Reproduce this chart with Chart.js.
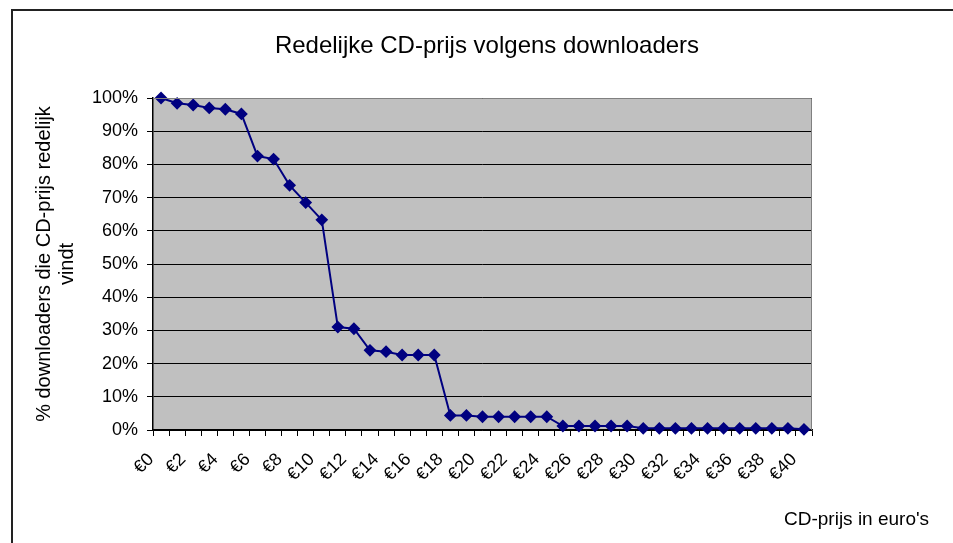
<!DOCTYPE html>
<html>
<head>
<meta charset="utf-8">
<script src="https://cdn.jsdelivr.net/npm/chart.js@4/dist/chart.umd.min.js"></script>
<style>
  body { margin: 0; background: #fff; }
  canvas { display: block; }
</style>
</head>
<body>
<canvas id="priceChart" width="953" height="543"></canvas>
<script>
// CD price in euros (0..40)
const prices = [];
for (let p = 0; p <= 40; p++) prices.push('€' + p);

// % of downloaders that find the price reasonable
const reasonable = [
  100, 98.4, 97.9, 97.0, 96.6, 95.2, 82.5, 81.6, 73.7, 68.5,
  63.3, 31.0, 30.5, 24.0, 23.6, 22.6, 22.6, 22.6, 4.4, 4.4,
  4.0, 4.0, 4.0, 4.0, 4.0, 1.2, 1.2, 1.2, 1.2, 1.2,
  0.5, 0.5, 0.5, 0.5, 0.5, 0.5, 0.5, 0.5, 0.5, 0.5, 0.2
];

const yTicks = [0, 10, 20, 30, 40, 50, 60, 70, 80, 90, 100];

const FONT = '"Liberation Sans", Arial, sans-serif';

// grey plot area, chart frame, title and the x axis caption
const decorations = {
  id: 'decorations',
  beforeDraw(chart) {
    const { ctx, chartArea: a } = chart;
    ctx.save();
    ctx.fillStyle = '#c0c0c0';
    ctx.fillRect(a.left, a.top, a.right - a.left, a.bottom - a.top);
    // outer chart border (only top and left are visible)
    ctx.strokeStyle = '#222';
    ctx.lineWidth = 2;
    ctx.beginPath();
    ctx.moveTo(12, 543);
    ctx.lineTo(12, 10);
    ctx.lineTo(953, 10);
    ctx.stroke();
    ctx.fillStyle = '#000';
    ctx.font = '24px ' + FONT;
    ctx.textAlign = 'center';
    ctx.textBaseline = 'alphabetic';
    ctx.fillText('Redelijke CD-prijs volgens downloaders', 487, 53);
    ctx.restore();
  },
  afterDatasetsDraw(chart) {
    const { ctx, chartArea: a } = chart;
    ctx.save();
    ctx.strokeStyle = '#808080';
    ctx.lineWidth = 1;
    ctx.beginPath();
    ctx.moveTo(a.left, a.top + 0.5);
    ctx.lineTo(a.right - 0.5, a.top + 0.5);
    ctx.lineTo(a.right - 0.5, a.bottom);
    ctx.stroke();
    ctx.fillStyle = '#000';
    ctx.font = '19px ' + FONT;
    ctx.textAlign = 'left';
    ctx.textBaseline = 'alphabetic';
    ctx.fillText("CD-prijs in euro's", 784, 525);
    ctx.restore();
  }
};

new Chart(document.getElementById('priceChart'), {
  type: 'line',
  data: {
    labels: prices,
    datasets: [{
      data: reasonable,
      borderColor: '#000080',
      backgroundColor: '#000080',
      borderWidth: 2,
      pointStyle: 'rectRot',
      pointRadius: 5,
      pointHoverRadius: 5,
      tension: 0,
      clip: false
    }]
  },
  options: {
    responsive: false,
    animation: false,
    layout: { padding: { top: 98, right: 141, bottom: 63, left: 30 } },
    plugins: {
      legend: { display: false },
      tooltip: { enabled: false },
      title: { display: false }
    },
    scales: {
      x: {
        type: 'category',
        offset: true,
        afterFit(scale) { scale.height = 50; },
        grid: {
          offset: true,
          drawOnChartArea: false,
          drawTicks: true,
          tickLength: 6,
          color: '#000'
        },
        border: { color: '#000', width: 1.5 },
        ticks: {
          autoSkip: false,
          maxRotation: 45,
          minRotation: 45,
          padding: 13,
          labelOffset: -10,
          color: '#000',
          font: { family: FONT, size: 18 },
          callback(value, index) { return index % 2 === 0 ? prices[index] : ''; }
        }
      },
      y: {
        min: 0,
        max: 100,
        afterFit(scale) { scale.width = 123; },
        afterBuildTicks(scale) { scale.ticks = yTicks.map(v => ({ value: v })); },
        grid: {
          color: '#000',
          lineWidth: 1,
          tickLength: 6
        },
        border: { color: '#000', width: 1.5 },
        ticks: {
          padding: 9,
          color: '#000',
          font: { family: FONT, size: 18 },
          callback(value) { return value + '%'; }
        },
        title: {
          display: true,
          text: ['% downloaders die CD-prijs redelijk', 'vindt'],
          color: '#000',
          font: { family: FONT, size: 20, lineHeight: 1.15 },
          padding: { top: 3, bottom: 0 }
        }
      }
    }
  },
  plugins: [decorations]
});
</script>
</body>
</html>
